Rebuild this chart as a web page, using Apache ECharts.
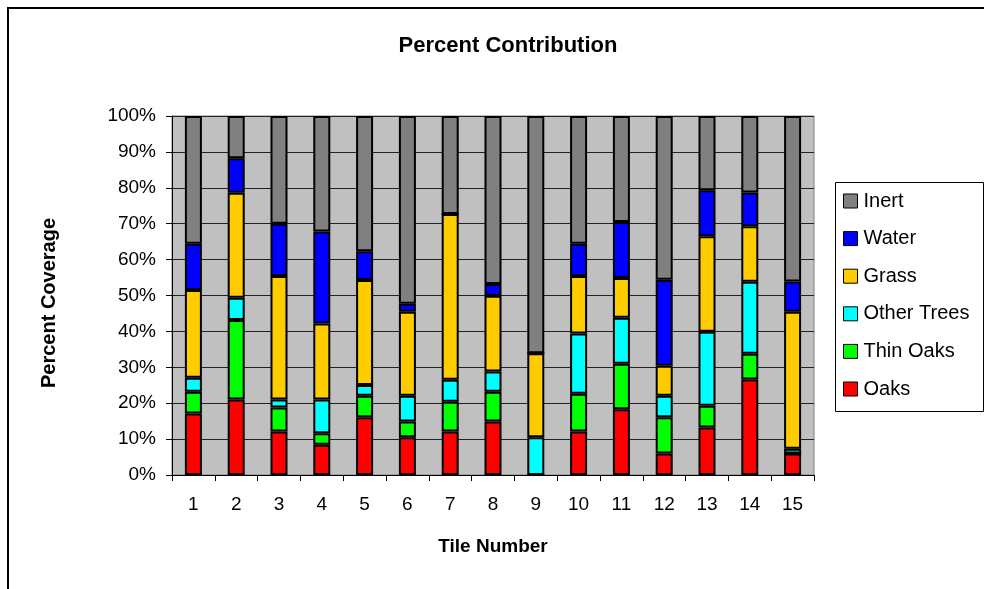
<!DOCTYPE html>
<html>
<head>
<meta charset="utf-8">
<script src="https://cdn.jsdelivr.net/npm/echarts@6/dist/echarts.min.js"></script>
<style>
  html, body { margin: 0; padding: 0; background: #fff; }
  #chart { width: 984px; height: 589px; }
</style>
</head>
<body>
<div id="chart"></div>
<script>
// Tile numbers along the x axis
const tiles = ['1','2','3','4','5','6','7','8','9','10','11','12','13','14','15'];

// Percent coverage per land-cover class, per tile (stacks sum to 100)
const oaks       = [17.1, 21.0, 12.1,  8.4, 16.1, 10.5, 12.1, 14.9,  0.0, 12.1, 18.3,  6.0, 13.2, 26.6,  6.0];
const thinOaks   = [ 6.1, 22.2,  6.7,  3.2,  6.0,  4.4,  8.3,  8.3,  0.0, 10.5, 12.7, 10.1,  6.1,  7.2,  0.0];
const otherTrees = [ 3.9,  6.2,  2.2,  9.4,  3.0,  7.2,  6.1,  5.6, 10.5, 16.8, 12.8,  6.0, 20.6, 20.0,  1.3];
const grass      = [24.4, 29.2, 34.4, 21.2, 29.2, 23.4, 46.2, 21.1, 23.4, 16.0, 11.1,  8.3, 26.6, 15.5, 38.2];
const water      = [12.9,  9.6, 14.6, 25.6,  8.0,  2.2,  0.0,  3.3,  0.0,  9.0, 15.6, 24.0, 12.8,  9.4,  8.4];
const inert      = [35.6, 11.8, 30.0, 32.2, 37.7, 52.3, 27.3, 46.8, 66.1, 35.6, 29.5, 45.6, 20.7, 21.3, 46.1];

const seriesNames  = ['Oaks', 'Thin Oaks', 'Other Trees', 'Grass', 'Water', 'Inert'];
const seriesValues = [oaks, thinOaks, otherTrees, grass, water, inert];
const seriesColors = ['#FF0000', '#00FF00', '#00FFFF', '#FFCC00', '#0000FF', '#808080'];

const FONT = '"Liberation Sans", Arial, sans-serif';

const chart = echarts.init(document.getElementById('chart'), null, { renderer: 'canvas' });

chart.setOption({
  backgroundColor: '#ffffff',
  animation: false,
  title: {
    text: 'Percent Contribution',
    left: 503,
    top: 30,
    textAlign: 'center',
    textStyle: { fontFamily: FONT, fontSize: 22, fontWeight: 'bold', color: '#000' }
  },
  graphic: [
    // outer chart frame
    { type: 'rect', silent: true, z: 0,
      shape: { x: 8, y: 8, width: 1000, height: 600 },
      style: { fill: 'none', stroke: '#000', lineWidth: 2 } },
    // legend box
    { type: 'rect', silent: true, z: 1,
      shape: { x: 835.5, y: 182.5, width: 148, height: 229 },
      style: { fill: '#fff', stroke: '#000', lineWidth: 1 } },
    // y axis title
    { type: 'text', silent: true, z: 5,
      x: 49, y: 303, rotation: Math.PI / 2,
      style: { text: 'Percent Coverage', font: 'bold 20px ' + FONT, fill: '#000',
               textAlign: 'center', textVerticalAlign: 'middle' } }
  ],
  legend: {
    orient: 'vertical',
    left: 843,
    top: 191,
    padding: 0,
    itemWidth: 14,
    itemHeight: 14,
    itemGap: 17.6,
    icon: 'rect',
    data: seriesNames.slice().reverse(),
    itemStyle: { borderColor: '#000', borderWidth: 1 },
    textStyle: { fontFamily: FONT, fontSize: 20, color: '#000', lineHeight: 20, padding: [0, 0, 0, 1] },
    z: 5
  },
  grid: {
    left: 172,
    right: 170,
    top: 116,
    bottom: 114,
    show: true,
    backgroundColor: '#C0C0C0',
    borderColor: '#808080',
    borderWidth: 1
  },
  xAxis: {
    type: 'category',
    data: tiles,
    name: 'Tile Number',
    nameLocation: 'middle',
    nameGap: 62,
    nameTextStyle: { fontFamily: FONT, fontSize: 19, fontWeight: 'bold', color: '#000' },
    axisLine: { show: true, lineStyle: { color: '#000', width: 1 } },
    axisTick: { show: true, length: 6, inside: false, lineStyle: { color: '#000' } },
    axisLabel: { fontFamily: FONT, fontSize: 19, color: '#000', margin: 20 },
    splitLine: { show: false }
  },
  yAxis: {
    type: 'value',
    min: 0,
    max: 100,
    interval: 10,
    axisLine: { show: true, lineStyle: { color: '#000', width: 1 } },
    axisTick: { show: true, length: 6, inside: false, lineStyle: { color: '#000' } },
    axisLabel: { fontFamily: FONT, fontSize: 19, color: '#000', margin: 16, formatter: '{value}%' },
    splitLine: { show: true, lineStyle: { color: '#222', width: 1 } }
  },
  series: seriesNames.map((name, i) => ({
    name: name,
    type: 'bar',
    stack: 'cover',
    data: seriesValues[i],
    barWidth: 17,
    itemStyle: { color: seriesColors[i], borderColor: '#000', borderWidth: 2 },
    emphasis: { disabled: true }
  }))
});
</script>
</body>
</html>
